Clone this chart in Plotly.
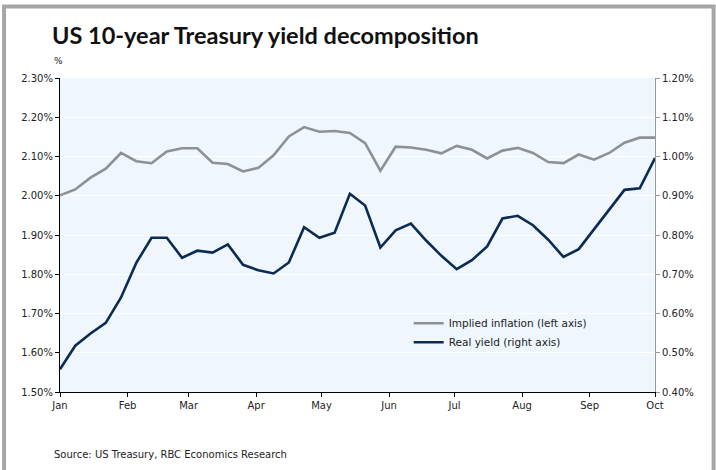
import pandas as pd
import plotly.graph_objects as go

dates = pd.date_range("2018-01-01", periods=40, freq="7D")

implied_inflation = [2.001, 2.016, 2.046, 2.069, 2.109, 2.088, 2.083, 2.113, 2.121, 2.121,
                     2.084, 2.081, 2.062, 2.071, 2.103, 2.151, 2.175, 2.163, 2.165, 2.160,
                     2.134, 2.064, 2.125, 2.123, 2.117, 2.108, 2.127, 2.117, 2.095, 2.115,
                     2.122, 2.109, 2.086, 2.083, 2.105, 2.092, 2.109, 2.135, 2.148, 2.148]

real_yield = [0.458, 0.518, 0.549, 0.576, 0.641, 0.729, 0.793, 0.793, 0.742, 0.760,
              0.755, 0.776, 0.724, 0.710, 0.702, 0.730, 0.820, 0.793, 0.806, 0.905,
              0.875, 0.768, 0.812, 0.829, 0.786, 0.747, 0.713, 0.736, 0.771, 0.842,
              0.849, 0.825, 0.788, 0.744, 0.764, 0.814, 0.863, 0.915, 0.919, 0.996]

month_ticks = ["2018-01-01", "2018-02-01", "2018-03-01", "2018-04-01", "2018-05-01",
               "2018-06-01", "2018-07-01", "2018-08-01", "2018-09-01", "2018-10-01"]
month_labels = ["Jan", "Feb", "Mar", "Apr", "May", "Jun", "Jul", "Aug", "Sep", "Oct"]

left_ticks = [1.5, 1.6, 1.7, 1.8, 1.9, 2.0, 2.1, 2.2, 2.3]
right_ticks = [0.4, 0.5, 0.6, 0.7, 0.8, 0.9, 1.0, 1.1, 1.2]

GRAY = "#8d9195"
NAVY = "#0b2b52"
FONT = "DejaVu Sans"

fig = go.Figure()
fig.add_trace(go.Scatter(x=dates, y=implied_inflation, mode="lines",
                         name="Implied inflation (left axis)",
                         line=dict(color=GRAY, width=2.6), yaxis="y"))
fig.add_trace(go.Scatter(x=dates, y=real_yield, mode="lines",
                         name="Real yield (right axis)",
                         line=dict(color=NAVY, width=2.6), yaxis="y2"))

fig.update_layout(
    width=716, height=470,
    margin=dict(l=60, r=61, t=78, b=78, autoexpand=False),
    paper_bgcolor="white",
    plot_bgcolor="#eff6fd",
    font=dict(family=FONT, size=10, color="#222222"),
    showlegend=True,
    legend=dict(x=0.586, y=0.265, xanchor="left", yanchor="top",
                bgcolor="rgba(0,0,0,0)",
                font=dict(family=FONT, size=10.5, color="#222222"),
                itemwidth=30, tracegroupgap=0),
    xaxis=dict(type="date", range=["2018-01-01", "2018-10-01"],
               tickvals=month_ticks, ticktext=month_labels,
               ticks="outside", ticklen=4, tickcolor="#000000",
               showline=True, linecolor="#000000", linewidth=1,
               showgrid=False, zeroline=False,
               tickfont=dict(family=FONT, size=10)),
    yaxis=dict(range=[1.5, 2.3], tickvals=left_ticks,
               ticktext=[f"{v:.2f}%" for v in left_ticks],
               ticks="outside", ticklen=4, tickcolor="#000000",
               showline=True, linecolor="#000000", linewidth=1,
               showgrid=True, gridcolor="#ffffff", gridwidth=1,
               zeroline=False, tickfont=dict(family=FONT, size=10)),
    yaxis2=dict(range=[0.4, 1.2], tickvals=right_ticks,
                ticktext=[f"{v:.2f}%" for v in right_ticks],
                overlaying="y", side="right",
                ticks="outside", ticklen=4, tickcolor="#999999",
                showline=True, linecolor="#999999", linewidth=1,
                showgrid=False, zeroline=False,
                tickfont=dict(family=FONT, size=10)),
)

fig.add_annotation(text="<b>US 10-year Treasury yield decomposition</b>",
                   xref="paper", yref="paper", x=-0.0168, y=1.0,
                   xanchor="left", yanchor="bottom", showarrow=False,
                   font=dict(family="Lato", size=23.5, color="#111111"),
                   yshift=27)
fig.add_annotation(text="%", xref="paper", yref="paper", x=-0.0134, y=1.0,
                   xanchor="left", yanchor="bottom", showarrow=False,
                   font=dict(family=FONT, size=9, color="#222222"), yshift=10)
fig.add_annotation(text="Source: US Treasury, RBC Economics Research",
                   xref="paper", yref="paper", x=-0.0134, y=0,
                   xanchor="left", yanchor="top", showarrow=False,
                   font=dict(family=FONT, size=10, color="#222222"), yshift=-55)

fig.add_shape(type="rect", xref="paper", yref="paper",
              x0=-0.094, x1=1.0985, y0=-0.3, y1=1.2275,
              line=dict(color="#a6a6a6", width=4), fillcolor="rgba(0,0,0,0)",
              layer="below")

fig.write_html("out.html")
